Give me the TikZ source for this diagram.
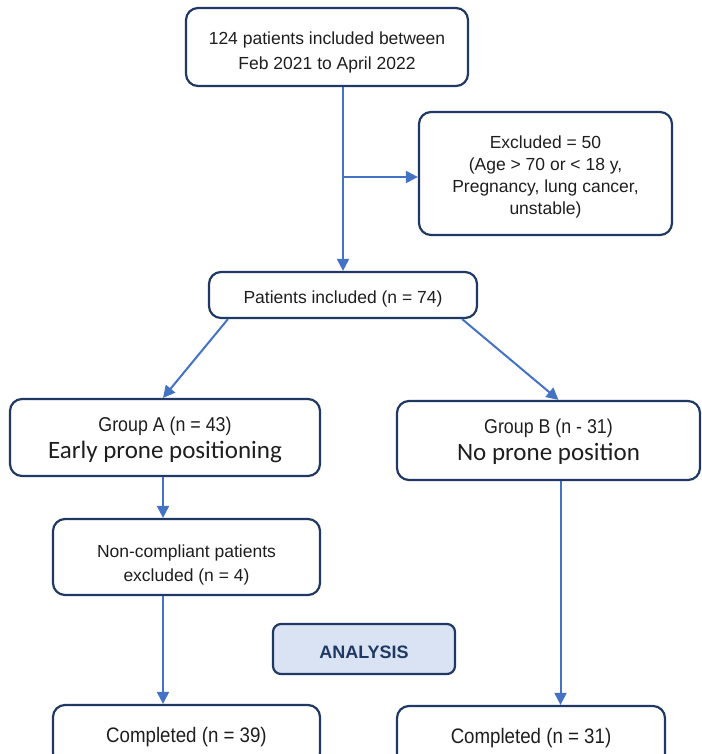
\documentclass[tikz,border=0pt]{standalone}
\usepackage{fontspec}
\setmainfont{Liberation Sans}
\newfontfamily\narrowfont[FakeStretch=0.89]{Liberation Sans}
\newfontfamily\calfont{Carlito}
\usetikzlibrary{arrows.meta}

\definecolor{boxnavy}{RGB}{31,56,100}
\definecolor{arrowblue}{RGB}{68,114,196}
\definecolor{fillblue}{RGB}{218,227,243}
\definecolor{txtgray}{RGB}{30,30,30}

\begin{document}
\begin{tikzpicture}[x=1pt, y=-1pt,
  flowbox/.style={draw=boxnavy, line width=2.2pt, rounded corners=12pt, align=center,
    text=txtgray, inner sep=0pt, font=\fontsize{17.5}{22}\selectfont,
    execute at begin node={\rule{0pt}{20pt}}},
  flowline/.style={draw=arrowblue, line width=2pt},
  flowarrow/.style={flowline, -{Triangle[length=12pt, width=12pt]}}]

  \useasboundingbox (0,0) rectangle (701,754);
  \clip (0,0) rectangle (701,754);

  % boxes (a zero-width rule lowers the first line a little)
  \node[flowbox, minimum width=282pt, minimum height=78pt,
    font=\fontsize{17.5}{25}\selectfont] (top) at (327,47)
    {\rule{0pt}{24pt}124 patients included between\\Feb 2021 to April 2022};
  \node[flowbox, minimum width=253pt, minimum height=123pt] (excl) at (545.5,173.5)
    {\rule{0pt}{19pt}Excluded = 50\\(Age > 70 or < 18 y,\\Pregnancy, lung cancer,\\unstable)};
  \node[flowbox, minimum width=268pt, minimum height=46pt] (incl) at (343,295)
    {Patients included (n = 74)};
  \node[flowbox, minimum width=310pt, minimum height=77pt, text depth=-2pt]
    (grpA) at (165,437.5)
    {{\narrowfont\fontsize{20}{20}\selectfont Group A (n = 43)}\\[5pt]
     {\calfont\fontsize{25}{25}\selectfont Early prone positioning}};
  \node[flowbox, minimum width=303pt, minimum height=79pt, text depth=1pt]
    (grpB) at (548.5,440.5)
    {{\narrowfont\fontsize{20}{20}\selectfont Group B (n - 31)}\\[5pt]
     {\calfont\fontsize{25}{25}\selectfont No prone position}};
  \node[flowbox, minimum width=267pt, minimum height=76pt,
    font=\fontsize{17.5}{24.5}\selectfont] (noncomp) at (186.5,557)
    {\rule{0pt}{29pt}Non-compliant patients\\excluded (n = 4)};
  \node[flowbox, minimum width=182pt, minimum height=50pt, fill=fillblue,
    rounded corners=8pt, text=boxnavy, font=\bfseries\fontsize{18}{20}\selectfont]
    (analysis) at (364,649) {ANALYSIS};
  \node[flowbox, minimum width=267pt, minimum height=60pt,
    font=\narrowfont\fontsize{21}{22}\selectfont] (compA) at (186.5,735)
    {Completed (n = 39)};
  \node[flowbox, minimum width=268pt, minimum height=60pt,
    font=\narrowfont\fontsize{21}{22}\selectfont] (compB) at (531,736)
    {Completed (n = 31)};

  \coordinate (br) at (343,177);

  % arrows
  \draw[flowarrow] (top.south -| incl.north) -- (incl.north);
  \draw[flowarrow] (br) -- (br -| excl.west);
  \draw[flowarrow] ([xshift=20pt]incl.south west) -- ([xshift=-2pt]grpA.north);
  \draw[flowarrow] ([xshift=-16pt]incl.south east) -- ([xshift=10pt]grpB.north);
  \draw[flowarrow] ([xshift=-2pt]grpA.south) -- ([xshift=-2pt]grpA.south |- noncomp.north);
  \draw[flowarrow] ([xshift=-2pt]grpA.south |- noncomp.south) -- ([xshift=-2pt]grpA.south |- compA.north);
  \draw[flowarrow] ([xshift=12pt]grpB.south) -- ([xshift=12pt]grpB.south |- compB.north);

\end{tikzpicture}
\end{document}
